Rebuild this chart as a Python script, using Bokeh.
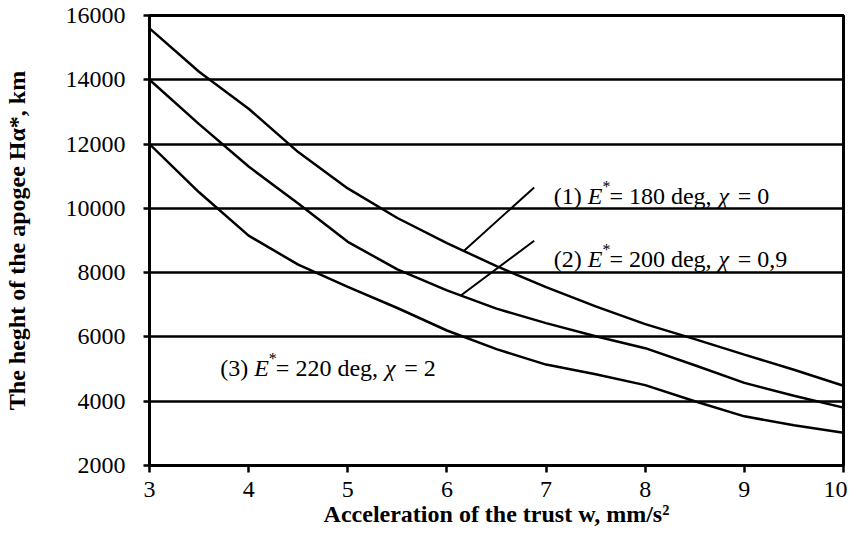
from bokeh.plotting import figure
from bokeh.models import Range1d, FixedTicker, Label
from bokeh.embed import file_html
from bokeh.resources import INLINE

# ---------------- data ----------------
accel = [3.0, 3.5, 4.0, 4.5, 5.0, 5.5, 6.0, 6.5, 7.0, 7.5, 8.0, 8.5, 9.0, 9.5, 10.0]
h_apogee_1 = [15600, 14250, 13100, 11750, 10620, 9700, 8920, 8200, 7550, 6950, 6400, 5930, 5450, 4980, 4480]
h_apogee_2 = [14000, 12620, 11300, 10150, 8960, 8100, 7450, 6880, 6430, 6020, 5650, 5120, 4570, 4170, 3800]
h_apogee_3 = [12000, 10500, 9150, 8250, 7560, 6900, 6200, 5620, 5140, 4840, 4500, 4000, 3530, 3250, 3020]

x_ticks = [3, 4, 5, 6, 7, 8, 9, 10]
x_tick_labels = ["3", "4", "5", "6", "7", "8", "9", "10"]
y_ticks = [2000, 4000, 6000, 8000, 10000, 12000, 14000, 16000]
y_tick_labels = ["2000", "4000", "6000", "8000", "10000", "12000", "14000", "16000"]

x_title = "Acceleration of the trust w, mm/s²"
y_title = "The heght of the apogee Hα*, km"

# leader lines: (x on curve, label-end x, label-end y)
leader_curve_x = [6.17, 6.14]
leader_label_x = [6.88, 6.88]
leader_label_y = [10650, 8990]

# ---------------- layout ----------------
W, H = 847, 529
ML, MR, MT, MB = 146, 4, 15, 64
FW, FH = W - ML - MR, H - MT - MB
X0, X1, Y0, Y1 = 3, 10, 2000, 16000


def px2x(px):  # page px -> data x
    return X0 + (px - 8 - ML) * (X1 - X0) / FW


def py2y(py):  # page py -> data y
    return Y0 + (8 + MT + FH - py) * (Y1 - Y0) / FH


FONT = "Liberation Serif"

WID = {
    "normal": {" ": 250, "(": 333, ")": 333, "*": 500, ",": 250, "=": 564, "d": 500,
               "e": 444, "g": 500, "E": 611},
    "italic": {"E": 611, "χ": 550, "H": 722, "w": 667, "α": 520},
}


def tw(s, style, size):
    return sum(WID[style].get(c, 500) for c in s) / 1000.0 * size


p = figure(width=W, height=H, x_range=Range1d(X0, X1), y_range=Range1d(Y0, Y1),
           output_backend="svg", toolbar_location=None,
           min_border_left=ML, min_border_right=MR, min_border_top=MT, min_border_bottom=MB)
p.background_fill_color = "white"
p.border_fill_color = "white"
p.outline_line_color = "black"
p.outline_line_width = 3

for ax in (p.xaxis, p.yaxis):
    ax.axis_line_color = "black"
    ax.axis_line_width = 3
    ax.major_tick_line_color = "black"
    ax.major_tick_line_width = 2.5
    ax.major_tick_in = 0
    ax.minor_tick_line_color = None
    ax.major_label_text_font = FONT
    ax.major_label_text_font_size = "24px"
    ax.major_label_text_color = "black"
    ax.axis_label_text_font = FONT
    ax.axis_label_text_font_size = "24px"
    ax.axis_label_text_font_style = "bold"
    ax.axis_label_text_color = "black"

p.xaxis.ticker = FixedTicker(ticks=x_ticks)
p.yaxis.ticker = FixedTicker(ticks=y_ticks)
p.xaxis.major_label_overrides = {t: l for t, l in zip(x_ticks, x_tick_labels)}
p.yaxis.major_label_overrides = {t: l for t, l in zip(y_ticks, y_tick_labels)}
p.xaxis.major_tick_out = 7
p.yaxis.major_tick_out = 6
p.xaxis.major_label_standoff = 9
p.yaxis.major_label_standoff = 18
p.xaxis.axis_label = x_title
p.yaxis.axis_label = y_title
p.xaxis.axis_label_standoff = 1
p.yaxis.axis_label_standoff = 33

p.xgrid.visible = False
p.ygrid.grid_line_color = "black"
p.ygrid.grid_line_width = 2.5

for h in (h_apogee_1, h_apogee_2, h_apogee_3):
    p.line(accel, h, line_color="black", line_width=2.5)

# leader lines from the labels to curves 1 and 2
for cx, lx, ly, hh in zip(leader_curve_x, leader_label_x, leader_label_y, [h_apogee_1, h_apogee_2]):
    cy = hh[0]
    for i in range(len(accel) - 1):
        if accel[i] <= cx <= accel[i + 1]:
            t = (cx - accel[i]) / (accel[i + 1] - accel[i])
            cy = hh[i] + t * (hh[i + 1] - hh[i])
    p.line([cx, lx], [cy, ly], line_color="black", line_width=2)


def put_pieces(x, y, pieces):
    adv = 0.0
    for text, style, size, shift, dx, extra in pieces:
        p.add_layout(Label(x=x, y=y, x_offset=adv + dx, y_offset=shift, text=text,
                           text_font=FONT, text_font_style=style, text_font_size=f"{size}px",
                           text_color="black", text_align="left", text_baseline="alphabetic"))
        adv += tw(text, style, size) + extra


S, s = 24, 16


def ann(num, deg, chi):
    return [(f"({num}) ", "normal", S, 0, 0, 0), ("E", "italic", S, 0, 0, 0),
            ("*", "normal", s, 9, 0, -1), (f" = {deg} deg, ", "normal", S, 0, 0, -5),
            ("χ", "italic", S, 0, 0, 6), (f" = {chi}", "normal", S, 0, 0, 0)]


put_pieces(px2x(560), py2y(203), ann(1, 180, "0"))
put_pieces(px2x(560), py2y(266), ann(2, 200, "0,9"))
put_pieces(px2x(225), py2y(375), ann(3, 220, "2"))

open("out.html", "w").write(file_html(p, INLINE))
